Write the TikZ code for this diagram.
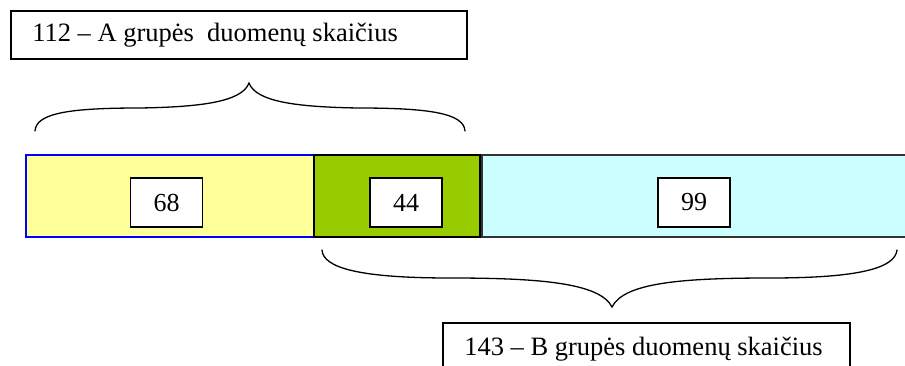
\documentclass[tikz,border=0pt]{standalone}
\usepackage{fontspec}
\setmainfont{Liberation Serif}
\definecolor{segyellow}{HTML}{FFFF99}
\definecolor{seggreen}{HTML}{99CC00}
\definecolor{segcyan}{HTML}{CCFFFF}
\definecolor{segblue}{HTML}{0000FF}
\begin{document}
\begin{tikzpicture}[x=1pt,y=-1pt,
  seg/.style={rectangle,inner sep=0pt,minimum height=82pt,line width=1.3pt},
  numbox/.style={rectangle,draw=black,fill=white,line width=1.5pt,inner sep=0pt,minimum width=72pt,minimum height=49pt,font=\fontsize{26}{28}\selectfont},
  labelbox/.style={rectangle,draw=black,fill=white,line width=1.8pt,inner sep=0pt},
  labeltext/.style={anchor=west,inner sep=0pt,font=\fontsize{26.5}{28}\selectfont},
  bracestyle/.style={line width=1.3pt,line cap=round}]
\clip (0,0) rectangle (905,366);
\fill[white] (0,0) rectangle (905,366);
% bar segments
\node[seg,fill=segyellow,draw=segblue,minimum width=288pt] (ya) at (170,196) {};
\node[seg,fill=seggreen,draw=black,minimum width=166pt] (gr) at (397,196) {};
\node[seg,fill=segcyan,draw=black!80,minimum width=432pt] (cy) at (698,196) {};
% numbers
\node[numbox] (n68) at (166.5,202.5) {68};
\node[numbox] (n44) at (406,202.5) {44};
\node[numbox] (n99) at (694,202.5) {99};
% labels
\node[labelbox,minimum width=456pt,minimum height=48pt] (la) at (239,35) {};
\node[labeltext] (lat) at ([xshift=22pt]la.west) {112 – A grupės \ duomenų skaičius};
\node[labelbox,minimum width=407pt,minimum height=52pt] (lb) at (646.5,349) {};
\node[labeltext] (lbt) at ([xshift=22pt]lb.west) {143 – B grupės duomenų skaičius};
% top brace
\coordinate (ta) at (35,131);
\coordinate (tb) at (465,131);
\coordinate (tt) at (249,83);
\draw[bracestyle] (ta) .. controls (36,113) and (70,108) .. (140,108)
  .. controls (200,107) and (242,102) .. (tt)
  .. controls (256,102) and (298,107) .. (358,108)
  .. controls (428,108) and (464,113) .. (tb);
% bottom brace
\coordinate (ba) at (322,250);
\coordinate (bb) at (897,250);
\coordinate (bt) at (612,307);
\draw[bracestyle] (ba) .. controls (323,268) and (360,278) .. (450,278)
  .. controls (540,278) and (600,283) .. (bt)
  .. controls (624,283) and (680,278) .. (770,278)
  .. controls (860,278) and (895,268) .. (bb);
\end{tikzpicture}
\end{document}
